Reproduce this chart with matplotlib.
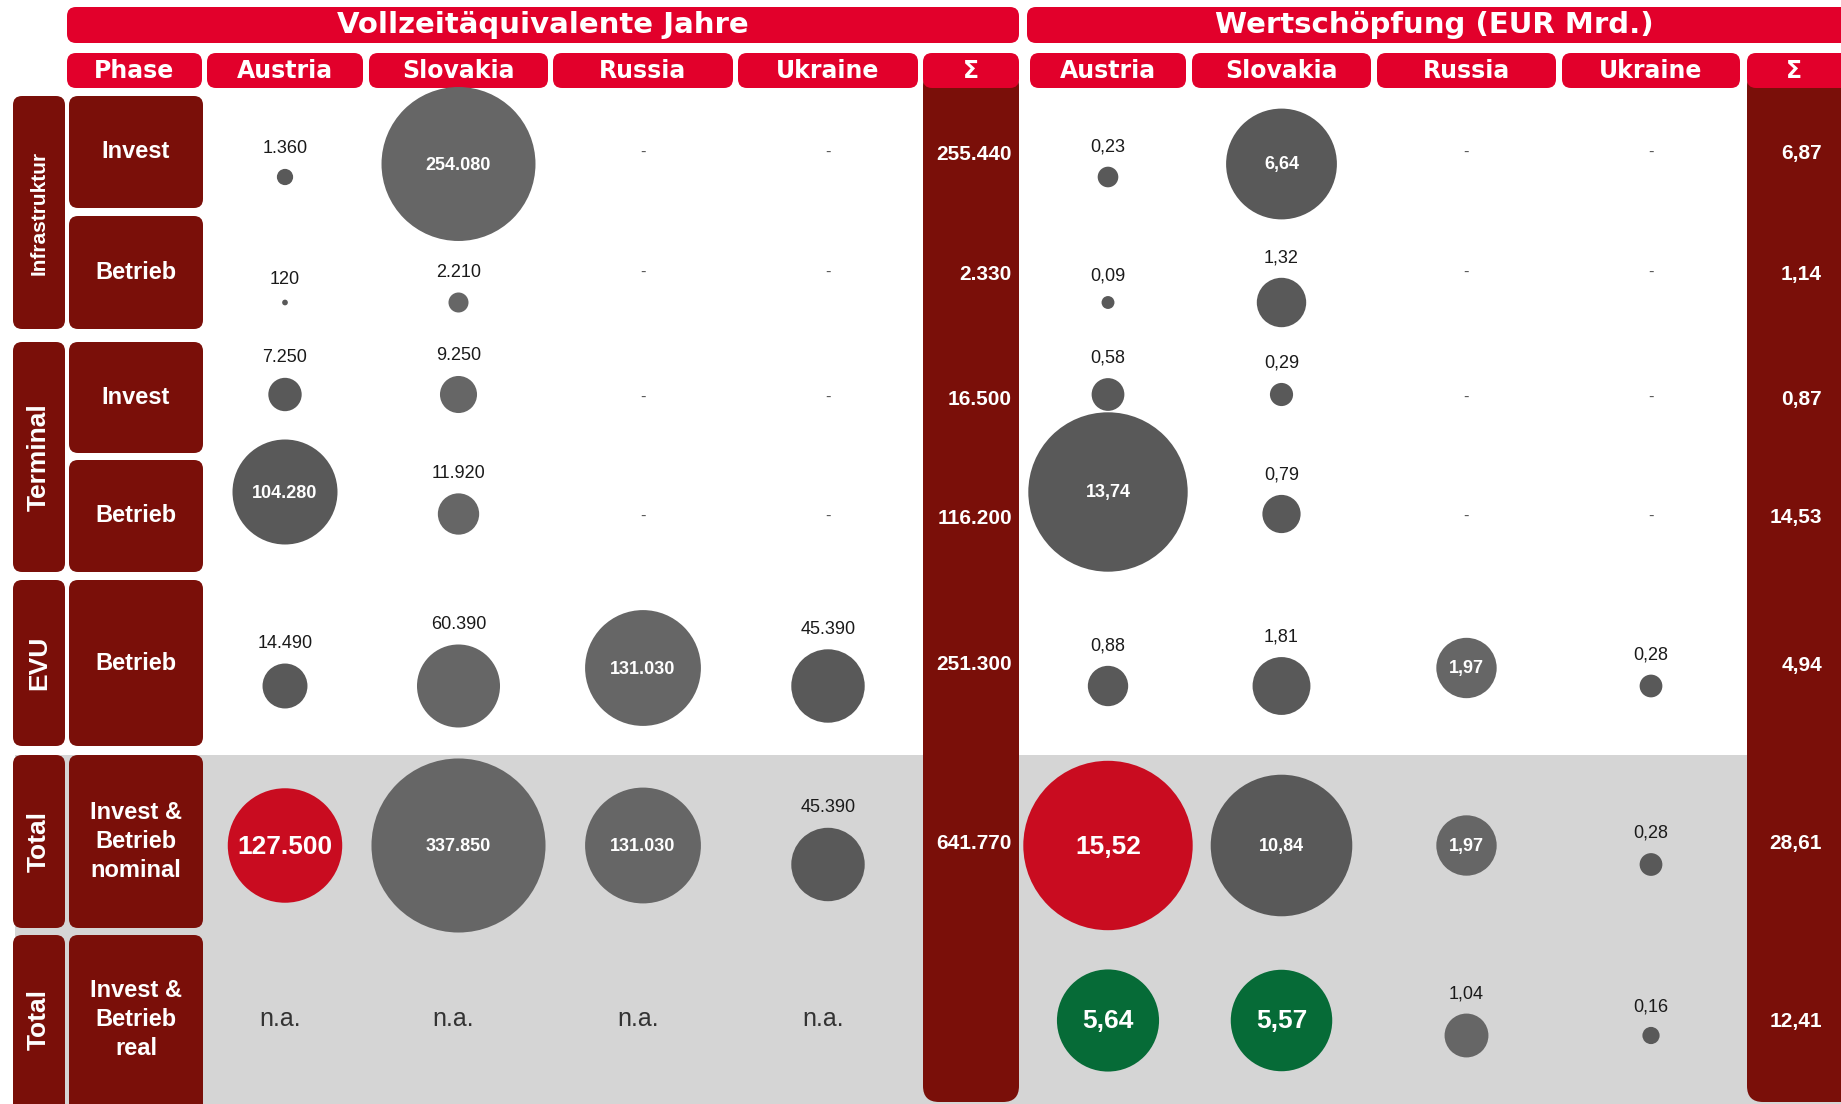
import matplotlib.pyplot as plt
from matplotlib.patches import FancyBboxPatch, Rectangle, Circle
import numpy as np

plt.rcParams['font.family'] = ['Liberation Sans', 'DejaVu Sans']

# --- data -------------------------------------------------------------
countries = ['Austria', 'Slovakia', 'Russia', 'Ukraine']
phases = ['Invest', 'Betrieb', 'Invest', 'Betrieb', 'Betrieb',
          'Invest &\nBetrieb\nnominal', 'Invest &\nBetrieb\nreal']
groups = ['Infrastruktur', 'Terminal', 'EVU', 'Total', 'Total']
group_rows = [(0, 1), (2, 3), (4, 4), (5, 5), (6, 6)]

# Vollzeitaequivalente Jahre (None = no value)
fte = [
    [1360, 254080, None, None],
    [120, 2210, None, None],
    [7250, 9250, None, None],
    [104280, 11920, None, None],
    [14490, 60390, 131030, 45390],
    [127500, 337850, 131030, 45390],
    [None, None, None, None],
]
fte_sum = [255440, 2330, 16500, 116200, 251300, 641770, None]
fte_missing = ['-', '-', '-', '-', '-', '-', 'n.a.']

# Wertschoepfung (EUR Mrd.)
gva = [
    [0.23, 6.64, None, None],
    [0.09, 1.32, None, None],
    [0.58, 0.29, None, None],
    [13.74, 0.79, None, None],
    [0.88, 1.81, 1.97, 0.28],
    [15.52, 10.84, 1.97, 0.28],
    [5.64, 5.57, 1.04, 0.16],
]
gva_sum = [6.87, 1.14, 0.87, 14.53, 4.94, 28.61, 12.41]
gva_missing = ['-'] * 7

# --- style / layout ---------------------------------------------------
RED = '#e2002b'
DARK = '#7a0f09'
GREY_D = '#595959'
GREY_L = '#666666'
HI_RED = '#c90c20'
GREEN = '#066b37'
BAND = '#d5d5d5'
HEAD_FONT = ['DejaVu Sans']

W, H = 1841, 1104
row_y = [(96, 208), (216, 329), (342, 453), (460, 572), (580, 746), (755, 928), (935, 1120)]
row_c = [(a + min(b, H)) / 2 for a, b in row_y]
small_dy = [25, 30, -3, -2, 23, 23, 16]
big_dy = [12, 0, 0, -24, 5, 4, 1]
label_gap = 20


def fmt_fte(v):
    return f"{v:,.0f}".replace(',', '.')


def fmt_gva(v):
    return f"{v:.2f}".replace('.', ',')


fig = plt.figure(figsize=(W / 100, H / 100), dpi=100)
ax = fig.add_axes([0, 0, 1, 1])
ax.set_xlim(0, W)
ax.set_ylim(H, 0)
ax.axis('off')


def box(x0, x1, y0, y1, color, r=9, z=2):
    ax.add_patch(FancyBboxPatch((x0, y0), x1 - x0, y1 - y0,
                                boxstyle=f"round,pad=0,rounding_size={r}",
                                fc=color, ec='none', zorder=z))


# grey band behind the two total rows
ax.add_patch(Rectangle((15, 755), W, 400, fc=BAND, ec='none', zorder=0))

# left row labels
box(67, 202, 53, 88, RED)
ax.text(134.5, 71, 'Phase', ha='center', va='center', color='white',
        fontsize=17, fontweight='bold', family=HEAD_FONT, zorder=5)
for (i0, i1), name in zip(group_rows, groups):
    y0, y1 = row_y[i0][0], row_y[i1][1]
    box(13, 65, y0, y1, DARK)
    size = 15 if len(name) > 10 else 19
    ax.text(39, (y0 + min(y1, H)) / 2, name, rotation=90, ha='center', va='center',
            color='white', fontsize=size, fontweight='bold', zorder=5)
for (y0, y1), yc, name in zip(row_y, row_c, phases):
    box(69, 203, y0, y1, DARK)
    ax.text(136, yc, name, ha='center', va='center', color='white',
            fontsize=17, fontweight='bold', linespacing=1.32, zorder=5)


def draw_panel(values, sums, missing, title, title_span, col_span, sum_span, sum_x,
               fmt, radius, inside_min, colors, highlights):
    box(title_span[0], title_span[1], 7, 43, RED)
    ax.text((title_span[0] + min(title_span[1], W)) / 2, 25, title, ha='center',
            va='center', color='white', fontsize=21, fontweight='bold',
            family=HEAD_FONT, zorder=5)

    # sum column
    box(sum_span[0], sum_span[1], 70, 1102, DARK, r=16, z=1)
    box(sum_span[0], sum_span[1], 53, 88, RED)
    sx = (sum_span[0] + min(sum_span[1], W)) / 2
    ax.text(sx, 71, 'Σ', ha='center', va='center', color='white',
            fontsize=17, fontweight='bold', family=HEAD_FONT, zorder=5)
    for yc, s in zip(row_c, sums):
        if s is not None:
            ax.text(sum_x, yc + 2, fmt(s), ha='right', va='center',
                    color='white', fontsize=15, fontweight='bold', zorder=5)

    for j, ((x0, x1), name) in enumerate(zip(col_span, countries)):
        box(x0, x1, 53, 88, RED)
        xc = (x0 + x1) / 2
        ax.text(xc, 71, name, ha='center', va='center', color='white',
                fontsize=17, fontweight='bold', family=HEAD_FONT, zorder=5)
        for i, yc in enumerate(row_c):
            v = values[i][j]
            if v is None:
                if missing[i] == 'n.a.':
                    ax.text(xc - 5, yc, 'n.a.', ha='center', va='center',
                            color='#333333', fontsize=18, zorder=5)
                else:
                    ax.text(xc, yc, '-', ha='center', va='center',
                            color='#555555', fontsize=12, zorder=5)
                continue
            r = radius(v)
            hi = highlights.get((i, j))
            fc = hi if hi else colors[j]
            if v >= inside_min:
                by = yc + big_dy[i]
                ax.add_patch(Circle((xc, by), r, fc=fc, ec='none', zorder=3))
                ax.text(xc, by + 1, fmt(v), ha='center', va='center', color='white',
                        fontsize=19 if hi else 13, fontweight='bold', zorder=5)
            else:
                by = yc + small_dy[i]
                ax.add_patch(Circle((xc, by), r, fc=fc, ec='none', zorder=3))
                ax.text(xc, by - r - label_gap, fmt(v), ha='center', va='center',
                        color='#1a1a1a', fontsize=13, zorder=5)


draw_panel(fte, fte_sum, fte_missing, 'Vollzeitäquivalente Jahre', (67, 1019),
           [(207, 363), (369, 548), (553, 733), (738, 918)], (923, 1019), 1012,
           fmt_fte, lambda v: 0.365 * v ** 0.43, 100000,
           [GREY_D, GREY_L, GREY_L, GREY_D], {(5, 0): HI_RED})

draw_panel(gva, gva_sum, gva_missing, 'Wertschöpfung (EUR Mrd.)', (1027, 1860),
           [(1030, 1186), (1192, 1371), (1377, 1556), (1562, 1740)], (1747, 1860), 1822,
           fmt_gva, lambda v: 21.5 * np.sqrt(v), 1.9,
           [GREY_D, GREY_D, GREY_L, GREY_D],
           {(5, 0): HI_RED, (6, 0): GREEN, (6, 1): GREEN})

fig.savefig('out.png', dpi=100)
